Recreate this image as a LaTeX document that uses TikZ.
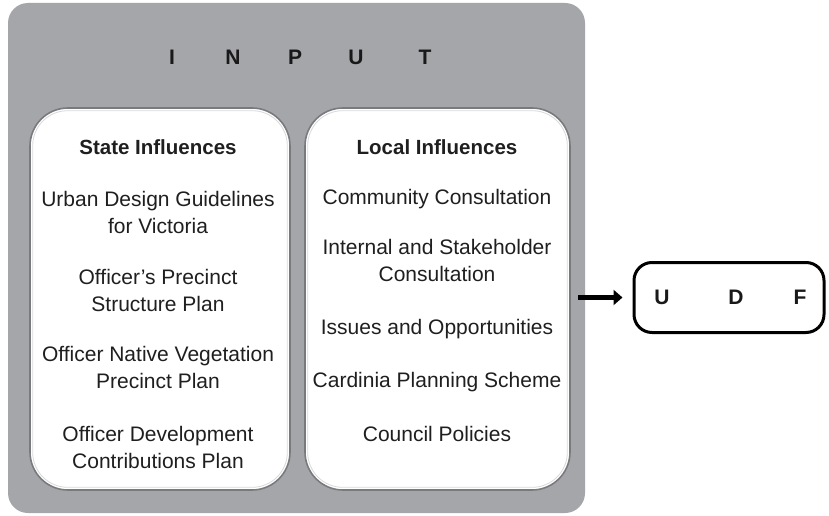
\documentclass[tikz,border=0pt]{standalone}
\usepackage{fontspec}
\setmainfont{Liberation Sans}
\usetikzlibrary{arrows.meta}
\definecolor{panelgray}{RGB}{164,166,169}
\definecolor{rimgray}{RGB}{120,122,125}
\begin{document}
\begin{tikzpicture}[x=1pt,y=-1pt,
  panel/.style={fill=panelgray, draw=none, rounded corners=20pt, inner sep=0pt},
  whitebox/.style={fill=white, draw=rimgray, line width=1.6pt, rounded corners=38pt, inner sep=0pt},
  item/.style={align=center, font=\fontsize{21}{27}\selectfont, text=black!88, inner sep=0pt},
  head/.style={align=center, font=\fontsize{20.5}{27}\selectfont\bfseries, text=black!88, inner sep=0pt},
  letter/.style={font=\fontsize{21}{24}\selectfont\bfseries, text=black!90, inner sep=0pt},
  udfbox/.style={draw=black, line width=3pt, rounded corners=18pt, fill=white, inner sep=0pt}
]
\useasboundingbox (0,0) rectangle (829,516);
\fill[white] (0,0) rectangle (829,516);
\node[panel, minimum width=577pt, minimum height=510pt] (input) at (296.5,258) {};
\node[letter] (i1) at (172,57) {I};
\node[letter] (i2) at (233,57) {N};
\node[letter] (i3) at (295,57) {P};
\node[letter] (i4) at (356,57) {U};
\node[letter] (i5) at (425,57) {T};
\node[whitebox, minimum width=260pt, minimum height=382pt] (state) at (160,299) {};
\node[whitebox, minimum width=265pt, minimum height=382pt] (local) at (437.5,299) {};
\draw[white!85!black, line width=0.8pt, rounded corners=35pt] ([shift={(3.5pt,3.5pt)}]state.south west) rectangle ([shift={(-3.5pt,-3.5pt)}]state.north east);
\draw[white!85!black, line width=0.8pt, rounded corners=35pt] ([shift={(3.5pt,3.5pt)}]local.south west) rectangle ([shift={(-3.5pt,-3.5pt)}]local.north east);
\node[head] (sh) at (158,147) {State Influences};
\node[item] (s1) at (158,212) {Urban Design Guidelines\\for Victoria};
\node[item] (s2) at (158,290) {Officer’s Precinct\\Structure Plan};
\node[item] (s3) at (158,367) {Officer Native Vegetation\\Precinct Plan};
\node[item] (s4) at (158,447) {Officer Development\\Contributions Plan};
\node[head] (lh) at (437,147) {Local Influences};
\node[item] (l1) at (437,199) {Community Consultation};
\node[item] (l2) at (437,260) {Internal and Stakeholder\\Consultation};
\node[item] (l3) at (437,329) {Issues and Opportunities};
\node[item] (l4) at (437,382) {Cardinia Planning Scheme};
\node[item] (l5) at (437,434) {Council Policies};
\node[udfbox, minimum width=190pt, minimum height=70pt] (udf) at (729,297.5) {};
\node[letter] (u1) at (662,297) {U};
\node[letter] (u2) at (736,297) {D};
\node[letter] (u3) at (800,297) {F};
\draw[line width=4.5pt, -{Triangle[length=9pt,width=15pt]}] ([xshift=-7pt]input.east |- udf.west) -- ([xshift=-10pt]udf.west);
\end{tikzpicture}
\end{document}
